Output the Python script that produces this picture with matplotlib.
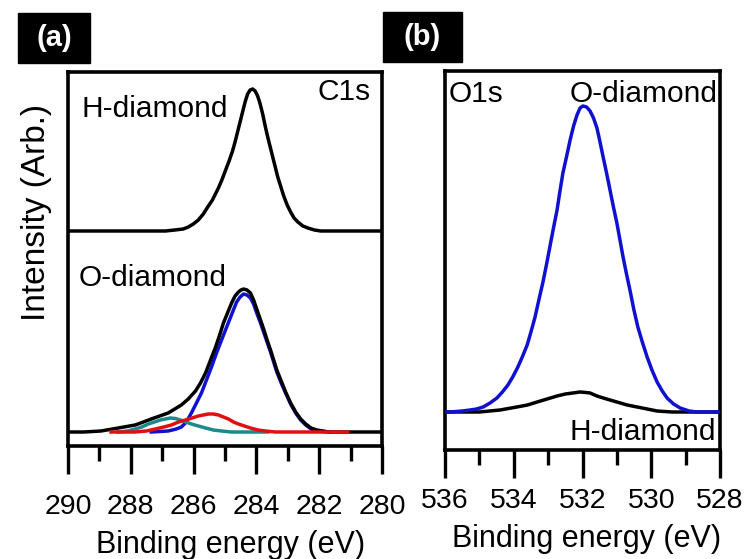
import matplotlib
matplotlib.use("Agg")
import matplotlib.pyplot as plt
from matplotlib.patches import Rectangle

plt.rcParams['font.family'] = ['Liberation Sans', 'DejaVu Sans']

# ---- panel (a): C1s ----
# H-diamond spectrum (drawn offset upward)
c1s_h_e = [290.00, 288.50, 287.50, 286.90, 286.60, 286.33, 286.17, 286.01, 285.85,
           285.69, 285.55, 285.40, 285.21, 285.10, 284.98, 284.87, 284.76, 284.68,
           284.60, 284.52, 284.44, 284.36, 284.28, 284.20, 284.12, 284.04, 283.96,
           283.88, 283.80, 283.72, 283.64, 283.56, 283.48, 283.40, 283.32, 283.22,
           283.13, 283.02, 282.91, 282.80, 282.68, 282.52, 282.36, 282.15, 281.95,
           281.31, 280.00]
c1s_h_i = [2.01, 2.01, 2.01, 2.01, 2.02, 2.03, 2.05, 2.08, 2.12,
           2.18, 2.25, 2.32, 2.44, 2.52, 2.62, 2.71, 2.81, 2.90,
           3.00, 3.10, 3.20, 3.30, 3.38, 3.42, 3.43, 3.41, 3.36,
           3.28, 3.18, 3.06, 2.95, 2.85, 2.75, 2.65, 2.55, 2.45,
           2.36, 2.27, 2.20, 2.14, 2.10, 2.06, 2.04, 2.02, 2.01,
           2.01, 2.01]

# O-diamond envelope (black)
c1s_o_e = [290.00, 289.50, 288.95, 288.40, 287.86, 287.60, 287.35, 287.08, 286.81,
           286.60, 286.39, 286.17, 285.94, 285.78, 285.62, 285.46, 285.30, 285.17,
           285.05, 284.92, 284.79, 284.68, 284.57, 284.49, 284.41, 284.30, 284.19,
           284.09, 283.99, 283.88, 283.77, 283.66, 283.55, 283.45, 283.35, 283.21,
           283.07, 282.91, 282.75, 282.59, 282.43, 282.26, 282.08, 281.89, 281.69,
           280.00]
c1s_o_i = [0.00, 0.00, 0.01, 0.04, 0.07, 0.10, 0.13, 0.16, 0.19,
           0.23, 0.27, 0.33, 0.41, 0.49, 0.59, 0.72, 0.85, 0.97,
           1.09, 1.19, 1.29, 1.36, 1.40, 1.42, 1.43, 1.42, 1.39,
           1.32, 1.23, 1.13, 1.03, 0.92, 0.82, 0.72, 0.62, 0.51,
           0.40, 0.29, 0.20, 0.13, 0.08, 0.04, 0.02, 0.01, 0.00,
           0.00]

# fitted components of the O-diamond C1s peak
comp_blue_e = [287.35, 286.81, 286.55, 286.39, 286.23, 286.07, 285.91, 285.75, 285.59,
               285.43, 285.27, 285.11, 284.96, 284.82, 284.72, 284.63, 284.52, 284.41,
               284.30, 284.19, 284.09, 283.99, 283.88, 283.77, 283.66, 283.55, 283.45,
               283.35, 283.21, 283.07, 282.91, 282.75, 282.59, 282.43, 282.26, 282.08,
               281.69]
comp_blue_i = [0.00, 0.01, 0.03, 0.05, 0.10, 0.19, 0.29, 0.39, 0.52,
               0.65, 0.79, 0.92, 1.04, 1.15, 1.23, 1.30, 1.35, 1.38,
               1.37, 1.34, 1.28, 1.19, 1.10, 1.00, 0.90, 0.80, 0.70,
               0.60, 0.49, 0.39, 0.28, 0.19, 0.12, 0.07, 0.03, 0.01,
               0.00]

comp_red_e = [288.63, 287.86, 287.50, 287.22, 286.95, 286.71, 286.48, 286.26, 286.05,
              285.85, 285.69, 285.53, 285.37, 285.21, 285.05, 284.89, 284.73, 284.57,
              284.38, 284.19, 283.95, 283.71, 283.40, 283.07, 281.09]
comp_red_i = [0.00, 0.00, 0.01, 0.03, 0.05, 0.07, 0.10, 0.12, 0.14,
              0.16, 0.17, 0.18, 0.18, 0.17, 0.15, 0.13, 0.10, 0.08,
              0.06, 0.04, 0.02, 0.01, 0.00, 0.00, 0.00]

comp_teal_e = [288.40, 288.10, 287.86, 287.65, 287.44, 287.25, 287.06, 286.90, 286.74,
               286.58, 286.42, 286.25, 286.07, 285.85, 285.62, 285.37, 285.11, 284.80,
               283.64]
comp_teal_i = [0.00, 0.01, 0.03, 0.05, 0.08, 0.10, 0.12, 0.13, 0.14,
               0.135, 0.12, 0.10, 0.08, 0.06, 0.04, 0.02, 0.01, 0.00,
               0.00]

# ---- panel (b): O1s ----
o1s_o_e = [536.00, 535.85, 535.50, 535.27, 535.08, 534.89, 534.69, 534.49, 534.33,
           534.17, 534.03, 533.88, 533.74, 533.61, 533.50, 533.38, 533.27, 533.15,
           533.05, 532.95, 532.85, 532.74, 532.66, 532.57, 532.46, 532.36, 532.26,
           532.16, 532.07, 531.99, 531.88, 531.78, 531.68, 531.58, 531.49, 531.40,
           531.30, 531.20, 531.10, 531.00, 530.91, 530.82, 530.72, 530.62, 530.51,
           530.39, 530.26, 530.12, 529.98, 529.83, 529.68, 529.54, 529.35, 529.16,
           528.90, 528.67, 528.00]
o1s_o_i = [0.00, 0.00, 0.01, 0.02, 0.03, 0.05, 0.09, 0.14, 0.20,
           0.27, 0.35, 0.45, 0.56, 0.67, 0.80, 0.95, 1.12, 1.30,
           1.47, 1.65, 1.83, 2.02, 2.20, 2.39, 2.56, 2.72, 2.86,
           2.97, 3.04, 3.06, 3.05, 3.01, 2.94, 2.84, 2.70, 2.55,
           2.39, 2.22, 2.05, 1.89, 1.72, 1.55, 1.38, 1.22, 1.03,
           0.85, 0.70, 0.55, 0.42, 0.30, 0.21, 0.14, 0.08, 0.04,
           0.01, 0.00, 0.00]

o1s_h_e = [536.00, 535.00, 534.40, 533.91, 533.60, 533.32, 533.03, 532.74, 532.50,
           532.28, 532.07, 531.90, 531.78, 531.58, 531.30, 531.00, 530.70, 530.41,
           530.12, 529.83, 529.40, 528.00]
o1s_h_i = [0.00, 0.00, 0.02, 0.05, 0.07, 0.10, 0.13, 0.16, 0.18,
           0.19, 0.20, 0.195, 0.19, 0.16, 0.13, 0.10, 0.07, 0.05,
           0.03, 0.01, 0.00, 0.00]

W, H = 748, 559


def px(x, y):
    # pixel position -> figure fraction
    return x / W, 1 - y / H


def style_axes(ax, xmax, xmin, pad):
    ax.set_xlim(xmax, xmin)
    ax.set_xticks(range(int(xmin), int(xmax) + 1, 2))
    ax.set_xticks(range(int(xmin), int(xmax) + 1), minor=True)
    ax.set_yticks([])
    for s in ax.spines.values():
        s.set_linewidth(2.6)
    ax.tick_params(axis='x', which='major', direction='out', length=20,
                   width=2.4, labelsize=20.5, pad=pad)
    ax.tick_params(axis='x', which='minor', direction='out', length=11, width=2.4)


def panel_tag(fig, x0, y0, x1, y1, label):
    fx, fy = px(x0, y1)
    fig.patches.append(Rectangle((fx, fy), (x1 - x0) / W, (y1 - y0) / H,
                                 transform=fig.transFigure, color='black'))
    cx, cy = px((x0 + x1) / 2, (y0 + y1) / 2)
    fig.text(cx, cy, label, color='white', fontsize=21, fontweight='bold',
             ha='center', va='center')


fig = plt.figure(figsize=(7.48, 5.59), dpi=100)

# panel (a)
ax1 = fig.add_axes([68 / W, 1 - 446 / H, (382 - 68) / W, (446 - 72) / H])
ax1.plot(c1s_o_e, c1s_o_i, color='black', lw=2.5, zorder=3)
ax1.plot(comp_blue_e, comp_blue_i, color='#1010d0', lw=2.5, zorder=2)
ax1.plot(comp_teal_e, comp_teal_i, color='#1a8a8a', lw=2.5, zorder=4)
ax1.plot(comp_red_e, comp_red_i, color='#e01010', lw=2.5, zorder=5)
ax1.plot(c1s_h_e, c1s_h_i, color='black', lw=2.5, zorder=3)
ax1.set_ylim(-0.14, 3.60)
style_axes(ax1, 290, 280, 14.5)

# panel (b)
ax2 = fig.add_axes([445 / W, 1 - 450 / H, (720 - 445) / W, (450 - 71) / H])
ax2.plot(o1s_h_e, o1s_h_i, color='black', lw=2.5, zorder=2)
ax2.plot(o1s_o_e, o1s_o_i, color='#1010d0', lw=2.5, zorder=3)
ax2.set_ylim(-0.38, 3.41)
style_axes(ax2, 536, 528, 7)

# labels
fs = 21.5
fig.text(*px(81, 117), 'H-diamond', fontsize=fs, ha='left', va='baseline')
fig.text(*px(371, 100), 'C1s', fontsize=fs, ha='right', va='baseline')
fig.text(*px(79, 286), 'O-diamond', fontsize=fs, ha='left', va='baseline')
fig.text(*px(449, 102), 'O1s', fontsize=fs, ha='left', va='baseline')
fig.text(*px(718, 102), 'O-diamond', fontsize=fs, ha='right', va='baseline')
fig.text(*px(716, 440), 'H-diamond', fontsize=fs, ha='right', va='baseline')

fig.text(*px(231, 553), 'Binding energy (eV)', fontsize=22, ha='center', va='baseline')
fig.text(*px(587, 547), 'Binding energy (eV)', fontsize=22, ha='center', va='baseline')
fig.text(*px(37, 212), 'Intensity (Arb.)', fontsize=24, rotation=90,
         ha='center', va='center')

panel_tag(fig, 18, 13, 90, 63, '(a)')
panel_tag(fig, 383, 12, 462, 62, '(b)')

fig.savefig('out.png', dpi=100)
